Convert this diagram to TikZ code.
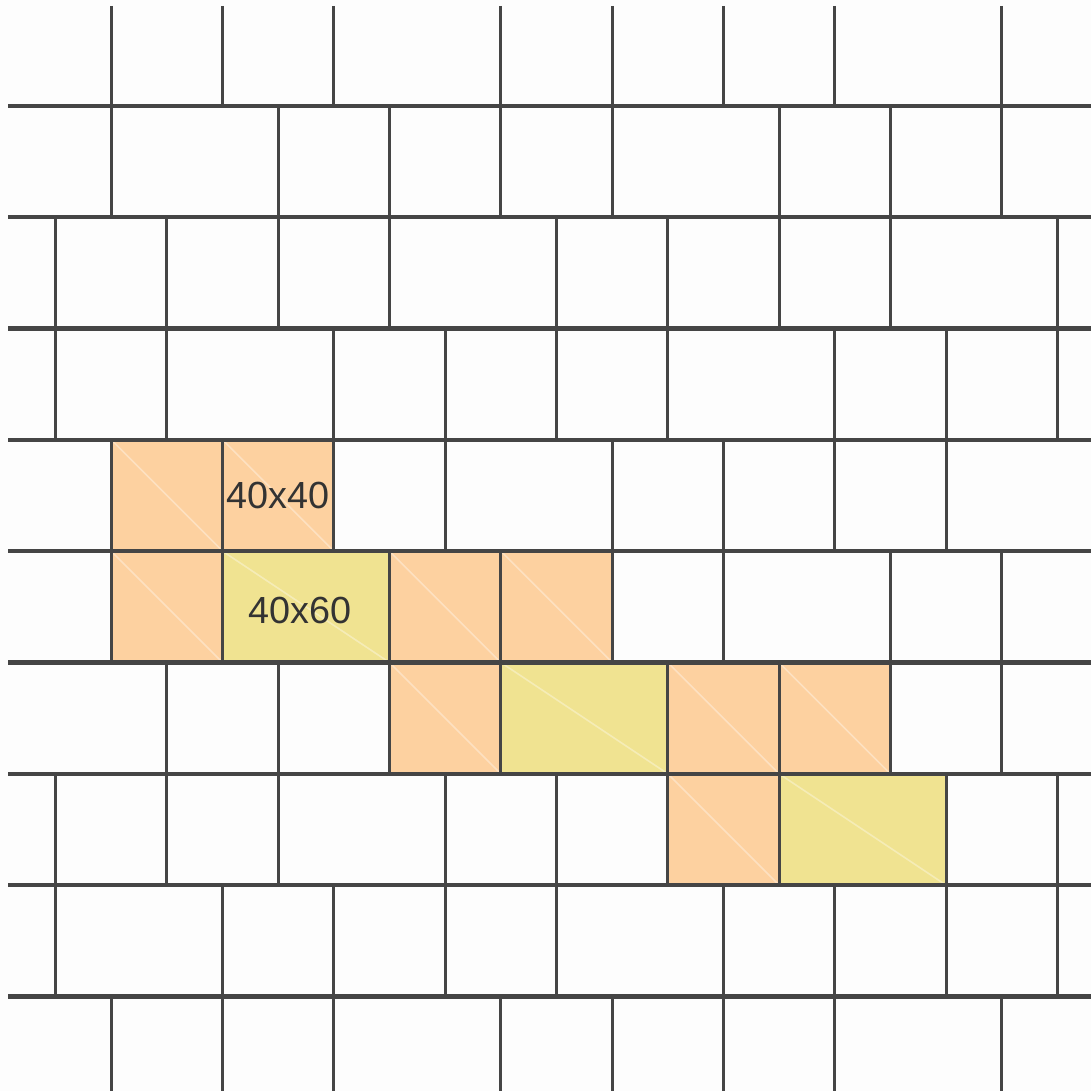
\documentclass[tikz,border=0pt]{standalone}
\usepackage{fontspec}
\setmainfont{Liberation Sans}
\definecolor{tileorange}{HTML}{FDD1A0}
\definecolor{tileyellow}{HTML}{F0E391}
\definecolor{grout}{HTML}{454545}
\definecolor{paper}{HTML}{FDFDFD}
\begin{document}
\begin{tikzpicture}[x=0.02cm,y=-0.02cm,
  groutv/.style={draw=grout,line width=1.7pt},
  grouth/.style={draw=grout,line width=2.4pt},
  diag/.style={draw=white,opacity=0.35,line width=0.9pt},
  tilelabel/.style={text=black!80,font=\fontsize{21.5}{24}\selectfont,inner sep=0pt}]
\fill[paper] (0,0) rectangle (1091,1091);
\useasboundingbox (0,0) rectangle (1091,1091);
% coloured tiles
\foreach \a/\b/\r/\col in {2/4/4/tileorange, 4/6/4/tileorange,
  2/4/5/tileorange, 4/7/5/tileyellow, 7/9/5/tileorange, 9/11/5/tileorange,
  7/9/6/tileorange, 9/12/6/tileyellow, 12/14/6/tileorange, 14/16/6/tileorange,
  12/14/7/tileorange, 14/17/7/tileyellow} {
  \pgfmathsetmacro\ttop{106+111.3*(\r-1)}
  \pgfmathsetmacro\tbot{106+111.3*\r}
  \fill[\col] (\a*55.65,\ttop) rectangle (\b*55.65,\tbot);
  \draw[diag] (\a*55.65,\ttop) -- (\b*55.65,\tbot);
}
% vertical joints per row
\foreach \r/\cols in {0/{2,4,6,9,11,13,15,18},
  1/{2,5,7,9,11,14,16,18},
  2/{1,3,5,7,10,12,14,16,19},
  3/{1,3,6,8,10,12,15,17,19},
  4/{2,4,6,8,11,13,15,17},
  5/{2,4,7,9,11,13,16,18},
  6/{3,5,7,9,12,14,16,18},
  7/{1,3,5,8,10,12,14,17,19},
  8/{1,4,6,8,10,13,15,17,19},
  9/{2,4,6,9,11,13,15,18}} {
  \pgfmathsetmacro\ttop{\r==0 ? 6 : 106+111.3*(\r-1)}
  \pgfmathsetmacro\tbot{\r==9 ? 1091 : 106+111.3*\r}
  \foreach \c in \cols {
    \draw[groutv] (\c*55.65,\ttop) -- (\c*55.65,\tbot);
  }
}
% horizontal joints
\foreach \k in {0,...,8} {
  \draw[grouth] (8,106+111.3*\k) -- (1091,106+111.3*\k);
}
\node[tilelabel] (lab1) at (278,495) {40x40};
\node[tilelabel] (lab2) at (300,610) {40x60};
\end{tikzpicture}
\end{document}
